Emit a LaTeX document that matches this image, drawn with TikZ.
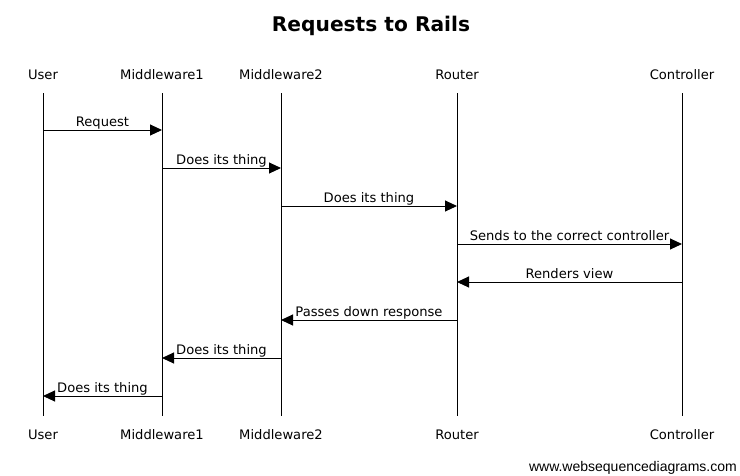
\documentclass[tikz,border=0pt]{standalone}
\usepackage{fontspec}
\setmainfont{DejaVu Sans}
\newfontfamily\wmfont{Liberation Sans}
\usetikzlibrary{arrows.meta}
\begin{document}
\begin{tikzpicture}[x=1pt,y=-1pt,
  actor/.style={anchor=base,inner sep=0pt,font=\fontsize{13.1}{15}\selectfont},
  lifeline/.style={line width=1pt},
  msg/.style={line width=1pt,-{Triangle[length=12pt,width=11pt]}},
  lbl/.style={anchor=base,inner sep=0pt,yshift=4pt,font=\fontsize{13.1}{15}\selectfont}]
\useasboundingbox[fill=white] (0,0) rectangle (740,475);
\node[anchor=base,inner sep=0pt,font=\bfseries\fontsize{20.2}{23}\selectfont] (title) at (371,31) {Requests to Rails};
% participants
\foreach \n/\x/\t in {u/43/User,ma/162/Middleware1,mb/281/Middleware2,r/457/Router,c/682/Controller}{
  \node[actor] (\n H) at (\x,79) {\t};
  \node[actor] (\n F) at (\x,439) {\t};
  \coordinate (\n T) at (\x,93);
  \coordinate (\n B) at (\x,416);
  \draw[lifeline] (\n T) -- (\n B);
}
% message rows
\foreach \i/\y in {1/130,2/168,3/206,4/244,5/282,6/320,7/358,8/396}{
  \coordinate (y\i) at (0,\y);
}
\draw[msg] (uT |- y1) -- (maT |- y1) node[lbl,midway] {Request};
\draw[msg] (maT |- y2) -- (mbT |- y2) node[lbl,midway] {Does its thing};
\draw[msg] (mbT |- y3) -- (rT |- y3) node[lbl,midway] {Does its thing};
\draw[msg] (rT |- y4) -- (cT |- y4) node[lbl,midway] {Sends to the correct controller};
\draw[msg] (cT |- y5) -- (rT |- y5) node[lbl,midway] {Renders view};
\draw[msg] (rT |- y6) -- (mbT |- y6) node[lbl,midway] {Passes down response};
\draw[msg] (mbT |- y7) -- (maT |- y7) node[lbl,midway] {Does its thing};
\draw[msg] (maT |- y8) -- (uT |- y8) node[lbl,midway] {Does its thing};
\node[anchor=base east,inner sep=0pt,font=\wmfont\fontsize{14}{16}\selectfont] (wm) at (737,471) {www.websequencediagrams.com};
\end{tikzpicture}
\end{document}
